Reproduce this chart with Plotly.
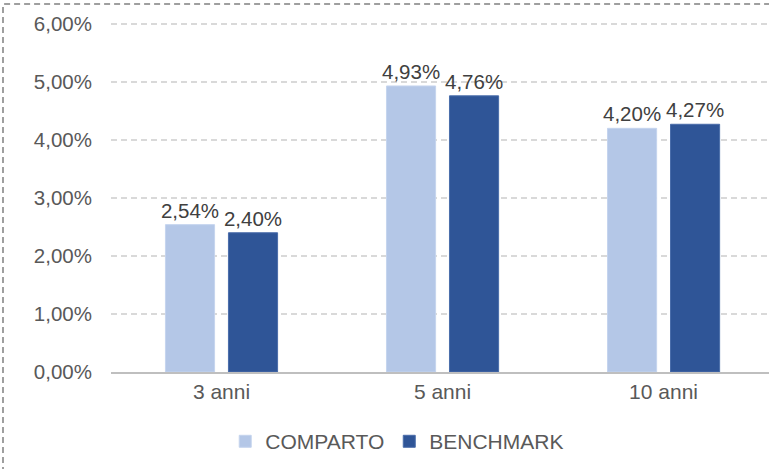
import plotly.graph_objects as go

categories = ["3 anni", "5 anni", "10 anni"]
comparto = [2.54, 4.93, 4.20]
benchmark = [2.40, 4.76, 4.27]
tick_vals = [0, 1, 2, 3, 4, 5, 6]
tick_text = ["0,00%", "1,00%", "2,00%", "3,00%", "4,00%", "5,00%", "6,00%"]

def fmt(v):
    return f"{v:.2f}".replace(".", ",") + "%"

FONT = "Liberation Sans, Arial, sans-serif"
FS = 20.5
fig = go.Figure()
fig.add_trace(go.Bar(
    name="COMPARTO", x=categories, y=comparto,
    marker=dict(color="#B4C7E7", line=dict(color="#C5D4EE", width=1)),
    text=[fmt(v) for v in comparto], textposition="outside", constraintext="none",
    textfont=dict(family=FONT, size=FS, color="#404040"), cliponaxis=False,
))
fig.add_trace(go.Bar(
    name="BENCHMARK", x=categories, y=benchmark,
    marker=dict(color="#2F5597", line=dict(color="#4A6DAA", width=1)),
    text=[fmt(v) for v in benchmark], textposition="outside", constraintext="none",
    textfont=dict(family=FONT, size=FS, color="#404040"), cliponaxis=False,
))

fig.update_layout(
    width=769, height=469,
    margin=dict(l=111, r=0, t=21, b=97),
    paper_bgcolor="white", plot_bgcolor="white",
    barmode="group", bargap=0.43, bargroupgap=0.22,
    font=dict(family=FONT, size=FS, color="#595959"),
    showlegend=True,
    legend=dict(orientation="h", x=0.435, xanchor="center", y=-0.14, yanchor="top",
                font=dict(family=FONT, size=21, color="#595959"),
                itemwidth=30, tracegroupgap=0),
)
fig.update_xaxes(
    type="category", range=[-0.5, 2.477],
    showline=True, linecolor="#BFBFBF", linewidth=1.5,
    showgrid=False, ticks="", tickfont=dict(size=21, color="#595959"),
)
fig.update_yaxes(
    range=[0, 6.05], tickvals=tick_vals, ticktext=tick_text,
    showgrid=True, gridcolor="#D9D9D9", griddash="6px,4px", gridwidth=1.5,
    zeroline=False, ticks="", ticklabelstandoff=18,
    tickfont=dict(size=FS, color="#595959"),
)
fig.add_shape(
    type="rect", xref="paper", yref="paper",
    x0=(3 - 111) / 658, x1=1.1, y0=-0.5, y1=(372 - 4) / 351,
    line=dict(color="#808080", width=1.5, dash="6px,4px"), fillcolor="rgba(0,0,0,0)",
    layer="below",
)
fig.write_html(
    "out.html",
    config={"displayModeBar": False},
    post_script="document.body.style.margin='0';document.body.style.overflow='hidden';",
)
